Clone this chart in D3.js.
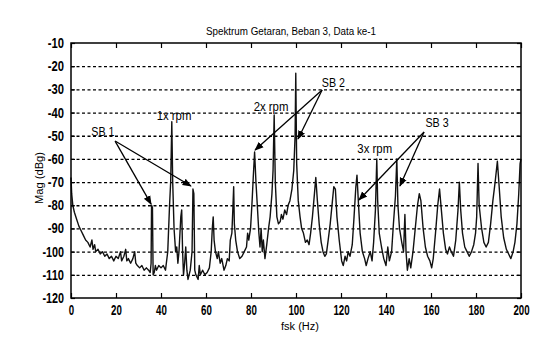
<!DOCTYPE html>
<html>
<head>
<meta charset="utf-8">
<script src="https://cdn.jsdelivr.net/npm/d3@7"></script>
<style>
  body { margin: 0; background: #fff; }
  svg text { font-family: "Liberation Sans", Arial, sans-serif; fill: #000; }
  .grid line { stroke: #000; stroke-width: 1.3; stroke-dasharray: 3,2.5; }
  .grid path { display: none; }
  .axis path { display: none; }
  .axis line { stroke: #000; stroke-width: 1.2; }
  .axis text { font-size: 14px; font-weight: bold; }
</style>
</head>
<body>
<div id="chart"></div>
<script>
// spectrum: frequency (Hz) and magnitude (dBg)
const freqHz = [0, 0.3, 0.8, 1.5, 2.5, 3.5, 4.5, 5.5, 6.5, 7.5, 8.5, 9.3, 9.8, 10.5, 11, 12, 13, 14, 15, 16, 17, 18, 19, 20, 21, 22, 22.5, 23.5, 24.3, 24.8, 25.5, 26.5, 27.5, 28.3, 28.8, 29.5, 30.5, 31.5, 32.5, 33.5, 34.5, 35.2, 35.6, 35.8, 36.2, 36.5, 37, 37.5, 38, 39, 40, 41, 42, 43, 43.8, 44.3, 44.8, 45.2, 45.8, 46.5, 47, 47.5, 48, 48.8, 49.2, 49.6, 50, 50.5, 51, 51.5, 52, 53, 53.8, 54.2, 54.6, 55, 55.5, 56.5, 57, 57.5, 58.5, 59.5, 60.5, 61.5, 62.3, 62.8, 63.2, 63.6, 64.2, 65, 65.5, 66.3, 67, 68, 68.8, 69.5, 70.3, 70.8, 71.5, 72, 72.3, 72.6, 73.2, 74, 75, 76, 77, 78, 78.5, 79, 79.8, 80.5, 81, 81.6, 82.2, 82.8, 83.5, 84, 84.5, 85, 85.5, 86.2, 87, 87.8, 88.5, 89.3, 89.8, 90.3, 90.8, 91.5, 92.2, 93, 93.5, 94.2, 95, 95.8, 96.5, 97.3, 98.2, 99, 99.6, 99.9, 100.3, 101, 101.8, 102.5, 103.3, 104.2, 105, 105.8, 106.5, 107.3, 108.2, 108.8, 109.5, 110.3, 111.2, 112, 112.8, 113.5, 114.3, 115.2, 116.2, 116.8, 117.5, 118.2, 119.2, 120.3, 121, 121.8, 122.5, 123.2, 124, 125, 125.8, 126.6, 127.1, 127.8, 128.5, 129.5, 130.5, 131.2, 132, 133, 133.8, 134.5, 135.3, 135.9, 136.3, 137, 138, 139, 140, 140.8, 141.5, 142.5, 143.3, 144.2, 144.8, 145.3, 146, 147, 147.8, 148.4, 148.9, 149.5, 150.3, 151, 152, 153, 154, 154.8, 155.5, 156.5, 157.5, 158.5, 159.5, 160.3, 161, 162, 163, 163.8, 164.6, 165.5, 166.5, 167.3, 168.2, 169, 170, 171, 172, 172.6, 173.2, 174, 175, 176, 177, 178, 179, 179.8, 180.3, 180.9, 181.4, 182.5, 183.5, 184.5, 185.5, 186.5, 187.5, 188.5, 189.5, 190.3, 191.2, 192.3, 193.5, 194.5, 195.5, 196.5, 197.3, 198.2, 199, 199.6, 200];
const magDb = [-68, -75, -80, -83, -86, -89, -91, -93, -95, -96, -98, -95, -99, -97, -100, -99, -101, -100, -102, -101, -103, -102, -104, -102, -103, -100, -104, -102, -99, -104, -103, -105, -103, -100, -105, -106, -107, -106, -108, -107, -108, -109, -105, -80, -81, -110, -109, -106, -108, -106, -107, -106, -108, -100, -80, -70, -44, -70, -90, -100, -98, -105, -100, -85, -82, -100, -110, -105, -98, -108, -112, -108, -100, -73, -75, -108, -110, -112, -106, -110, -108, -110, -109, -107, -100, -90, -85, -95, -100, -103, -100, -105, -103, -108, -106, -103, -104, -95, -92, -80, -72, -88, -95, -100, -103, -102, -100, -98, -92, -95, -90, -78, -68, -57, -70, -80, -92, -98, -90, -100, -95, -103, -97, -90, -85, -75, -65, -41, -70, -85, -88, -87, -84, -86, -82, -84, -80, -78, -73, -65, -50, -23, -62, -78, -85, -90, -92, -96, -95, -97, -92, -85, -75, -68, -78, -88, -96, -100, -102, -101, -95, -88, -78, -72, -73, -85, -95, -104, -106, -102, -104, -100, -102, -97, -85, -72, -67, -80, -92, -100, -103, -106, -103, -100, -104, -96, -82, -60, -78, -92, -98, -103, -106, -98, -104, -100, -88, -76, -60, -80, -90, -96, -100, -84, -100, -108, -103, -107, -100, -90, -80, -75, -78, -90, -98, -102, -104, -107, -103, -92, -80, -73, -82, -92, -99, -101, -98, -100, -102, -95, -82, -70, -82, -92, -98, -100, -102, -100, -97, -92, -85, -62, -80, -90, -96, -98, -96, -88, -78, -70, -61, -72, -85, -94, -99, -101, -103, -100, -96, -88, -75, -62, -60];

const xTicks = [0, 20, 40, 60, 80, 100, 120, 140, 160, 180, 200];
const yTicks = [-10, -20, -30, -40, -50, -60, -70, -80, -90, -100, -110, -120];

// annotation labels (data units)
const noteText = ["SB 1", "1x rpm", "2x rpm", "SB 2", "SB 3", "3x rpm"];
const noteFreq = [14.2, 45.8, 88.9, 116.6, 162.7, 135];
const noteMag = [-48.4, -41.2, -37.4, -27.2, -44.4, -55.6];

// arrows: from label to peak (data units)
const arrowFrom = [[19.6, -52.3], [19.6, -52.3], [111.6, -30.3], [111.6, -30.3], [156.9, -48.4], [156.9, -48.4]];
const arrowTo = [[35.6, -79.5], [53.3, -71.7], [81.8, -56.2], [100.9, -51.4], [128, -77.7], [146.2, -71.7]];

const margin = {top: 43, left: 71, right: 31, bottom: 54};
const width = 552 - margin.left - margin.right;
const height = 352 - margin.top - margin.bottom;

const svg = d3.select("#chart").append("svg")
    .attr("width", 552)
    .attr("height", 352);

const g = svg.append("g")
    .attr("transform", `translate(${margin.left},${margin.top})`);

const x = d3.scaleLinear().domain([0, 200]).range([0, width]);
const y = d3.scaleLinear().domain([-120, -10]).range([height, 0]);

// dotted grid
g.append("g")
    .attr("class", "grid")
    .call(d3.axisLeft(y).tickValues(yTicks.slice(1, -1)).tickSize(-width).tickFormat(""));

// spectrum line
const data = freqHz.map((f, i) => ({f: f, m: magDb[i]}));
const line = d3.line().x(d => x(d.f)).y(d => y(d.m));
g.append("path")
    .datum(data)
    .attr("d", line)
    .attr("fill", "none")
    .attr("stroke", "#111")
    .attr("stroke-width", 1.4)
    .attr("stroke-linejoin", "round");

// axes with inward ticks
g.append("g")
    .attr("class", "axis")
    .attr("transform", `translate(0,${height})`)
    .call(d3.axisBottom(x).tickValues(xTicks).tickSize(-5).tickPadding(7).tickFormat(d => String(d)));
g.append("g")
    .attr("class", "axis")
    .call(d3.axisTop(x).tickValues(xTicks).tickSize(-5).tickFormat(""));
g.append("g")
    .attr("class", "axis")
    .call(d3.axisLeft(y).tickValues(yTicks).tickSize(-4).tickPadding(7).tickFormat(d => String(d)));
g.append("g")
    .attr("class", "axis")
    .attr("transform", `translate(${width},0)`)
    .call(d3.axisRight(y).tickValues(yTicks).tickSize(-4).tickFormat(""));

// condense tick labels
g.selectAll(".axis text")
    .attr("textLength", function() { return this.textContent.length * 5.4; })
    .attr("lengthAdjust", "spacingAndGlyphs");

// frame
g.append("rect")
    .attr("width", width)
    .attr("height", height)
    .attr("fill", "none")
    .attr("stroke", "#000")
    .attr("stroke-width", 1.5);

// arrows
svg.append("defs").append("marker")
    .attr("id", "head")
    .attr("viewBox", "0 0 10 10")
    .attr("refX", 9).attr("refY", 5)
    .attr("markerWidth", 7).attr("markerHeight", 7)
    .attr("orient", "auto")
    .append("path")
    .attr("d", "M0,1 L10,5 L0,9 Z")
    .attr("fill", "#000");

arrowFrom.forEach((p, i) => {
    g.append("line")
        .attr("x1", x(p[0])).attr("y1", y(p[1]))
        .attr("x2", x(arrowTo[i][0])).attr("y2", y(arrowTo[i][1]))
        .attr("stroke", "#000")
        .attr("stroke-width", 1.3)
        .attr("marker-end", "url(#head)");
});

noteText.forEach((t, i) => {
    g.append("text")
        .attr("x", x(noteFreq[i]))
        .attr("y", y(noteMag[i]))
        .attr("dy", "0.35em")
        .attr("text-anchor", "middle")
        .style("font-size", "12px")
        .attr("textLength", t.length * 5.8)
        .attr("lengthAdjust", "spacingAndGlyphs")
        .text(t);
});

// title and axis labels
svg.append("text")
    .attr("x", 291)
    .attr("y", 35)
    .attr("text-anchor", "middle")
    .style("font-size", "10px")
    .attr("textLength", 170)
    .attr("lengthAdjust", "spacingAndGlyphs")
    .text("Spektrum Getaran, Beban 3, Data ke-1");

svg.append("text")
    .attr("x", 300)
    .attr("y", 330)
    .attr("text-anchor", "middle")
    .style("font-size", "10px")
    .attr("textLength", 38)
    .attr("lengthAdjust", "spacingAndGlyphs")
    .text("fsk (Hz)");

svg.append("text")
    .attr("transform", "translate(43,178) rotate(-90)")
    .attr("text-anchor", "middle")
    .style("font-size", "10px")
    .attr("textLength", 52)
    .attr("lengthAdjust", "spacingAndGlyphs")
    .text("Mag (dBg)");
</script>
</body>
</html>
